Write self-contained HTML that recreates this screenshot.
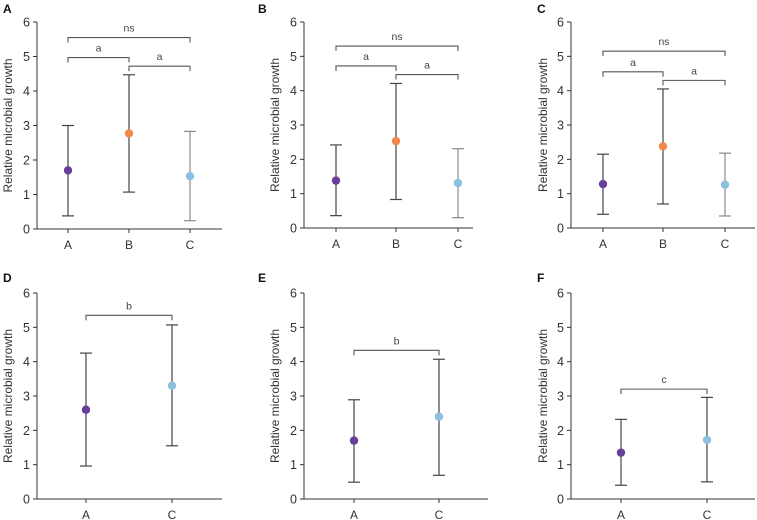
<!DOCTYPE html>
<html><head><meta charset="utf-8"><style>
body{margin:0;background:#fff}
svg{display:block;font-family:"Liberation Sans",sans-serif}
</style></head><body>
<svg id="chart" width="757" height="520" viewBox="0 0 757 520"></svg>
<script>
const panelLetters=["A","B","C","D","E","F"];
const groupsA=["A","B","C"], groupsB=["A","C"];
const yTicks=[0,1,2,3,4,5,6];
const means=[[1.70,2.77,1.53],[1.38,2.53,1.31],[1.28,2.38,1.26],[2.60,3.30],[1.70,2.40],[1.35,1.72]];
const lows=[[0.38,1.07,0.24],[0.36,0.83,0.30],[0.40,0.70,0.35],[0.96,1.55],[0.49,0.69],[0.40,0.50]];
const highs=[[3.00,4.47,2.83],[2.42,4.21,2.31],[2.15,4.05,2.18],[4.25,5.07],[2.89,4.07],[2.32,2.96]];
// brackets: [fromIndex,toIndex,yValue,label]
const brackets=[
 [[0,2,5.55,"ns"],[0,1,4.97,"a"],[1,2,4.72,"a"]],
 [[0,2,5.30,"ns"],[0,1,4.72,"a"],[1,2,4.47,"a"]],
 [[0,2,5.15,"ns"],[0,1,4.55,"a"],[1,2,4.30,"a"]],
 [[0,1,5.35,"b"]],
 [[0,1,4.33,"b"]],
 [[0,1,3.20,"c"]]
];
const layout=[
 {ax:37,top:22,bot:229,end:222,xs:[68,129,190],lx:3,ly:13,tx:8},
 {ax:304,top:22,bot:228,end:473,xs:[336,396,458],lx:258,ly:13,tx:275},
 {ax:571,top:22,bot:228,end:755,xs:[603,663,725],lx:537,ly:13,tx:543},
 {ax:37,top:293,bot:499,end:222,xs:[86,172],lx:3,ly:282,tx:8},
 {ax:304,top:293,bot:499,end:488,xs:[354,439],lx:258,ly:282,tx:275},
 {ax:571,top:293,bot:499,end:755,xs:[621,707],lx:537,ly:282,tx:543}
];
const dotColors={A:"#6a3d9a",B:"#f4874b",C:"#8cc0df"};
const svg=document.getElementById('chart');
const NS="http://www.w3.org/2000/svg";
function mk(tag,attrs,parent){const e=document.createElementNS(NS,tag);for(const k in attrs)e.setAttribute(k,attrs[k]);(parent||svg).appendChild(e);return e;}
panelLetters.forEach((L,p)=>{
 const g=mk('g',{});
 
 
 const lo=layout[p];
 const groups=p<3?groupsA:groupsB;
 const y=v=>lo.bot-(v/6)*(lo.bot-lo.top);
 const t=mk('text',{x:lo.lx,y:lo.ly,'font-size':12,'font-weight':'bold',fill:'#111'},g);t.textContent=L;
 
 
 const ya=mk('line',{x1:lo.ax,y1:lo.top,x2:lo.ax,y2:lo.bot,stroke:'#333','stroke-width':1},g);
 
 
 const xa=mk('line',{x1:lo.ax,y1:lo.bot,x2:lo.end,y2:lo.bot,stroke:'#333','stroke-width':1},g);
 
 
 yTicks.forEach(v=>{
  mk('line',{x1:lo.ax-4,y1:y(v),x2:lo.ax,y2:y(v),stroke:'#333'},g);
  const tl=mk('text',{x:lo.ax-7,y:y(v)+4.5,'font-size':12.5,'text-anchor':'end',fill:'#333'},g);tl.textContent=v;
  
  
 });
 const yt=mk('text',{x:0,y:0,'font-size':12,'text-anchor':'middle',fill:'#333',transform:`translate(${lo.tx+4},${(lo.top+lo.bot)/2}) rotate(-90)`},g);
 yt.textContent='Relative microbial growth';
 
 
 groups.forEach((gname,i)=>{
  const x=lo.xs[i];
  mk('line',{x1:x,y1:lo.bot,x2:x,y2:lo.bot+4,stroke:'#333'},g);
  const xl=mk('text',{x:x,y:lo.bot+20,'font-size':12,'text-anchor':'middle',fill:'#333'},g);xl.textContent=gname;
  
  
  const col=(p<3&&i===2)?'#8a8a8a':'#444';
  const eb=mk('g',{stroke:col,'stroke-width':1.2},g);
  
  
  mk('line',{x1:x,y1:y(lows[p][i]),x2:x,y2:y(highs[p][i])},eb);
  mk('line',{x1:x-6,y1:y(lows[p][i]),x2:x+6,y2:y(lows[p][i])},eb);
  mk('line',{x1:x-6,y1:y(highs[p][i]),x2:x+6,y2:y(highs[p][i])},eb);
  const d=mk('circle',{cx:x,cy:y(means[p][i]),r:4.2,fill:dotColors[gname]},g);
  
  
 });
 brackets[p].forEach(b=>{
  const x1=lo.xs[b[0]],x2=lo.xs[b[1]],yy=y(b[2]);
  const br=mk('path',{d:`M${x1},${yy+5}V${yy}H${x2}V${yy+5}`,fill:'none',stroke:'#555','stroke-width':1.1},g);
  
  
  const bt=mk('text',{x:(x1+x2)/2,y:yy-6,'font-size':10.5,'text-anchor':'middle',fill:'#444'},g);bt.textContent=b[3];
  
  
 });
});
</script>
</body></html>
